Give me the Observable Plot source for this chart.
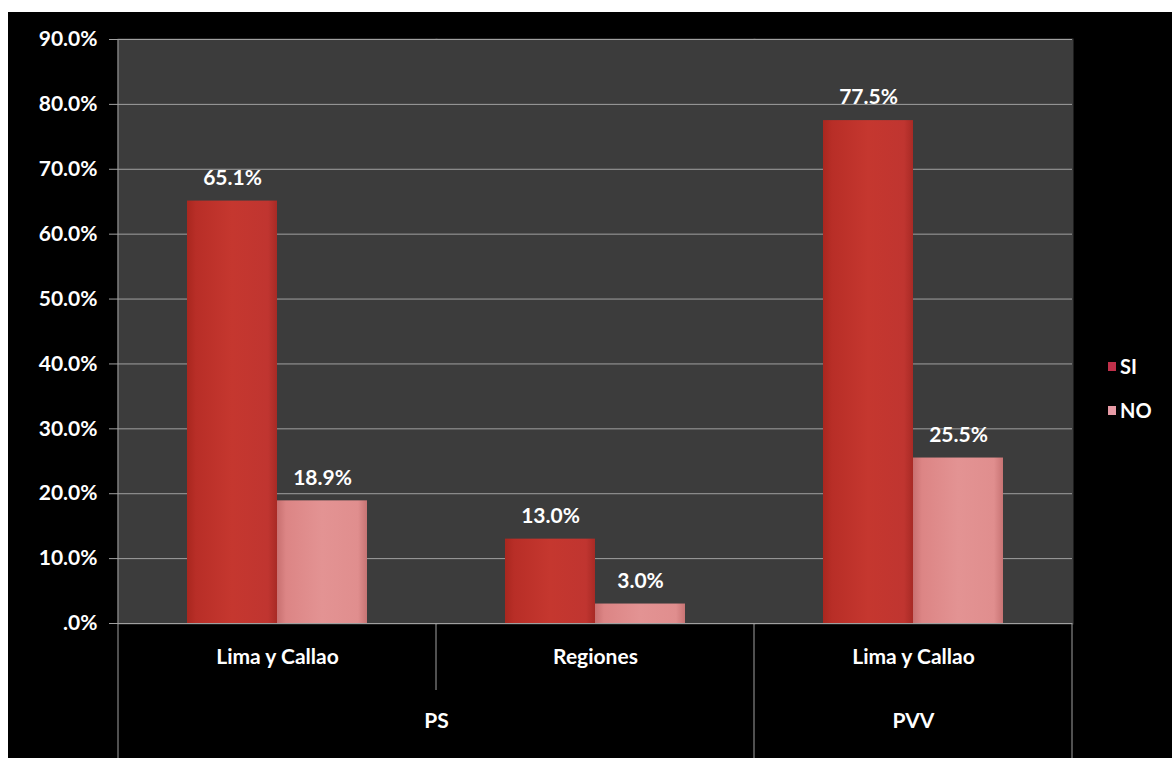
<!DOCTYPE html>
<html>
<head>
<meta charset="utf-8">
<script src="https://cdn.jsdelivr.net/npm/d3@7"></script>
<script src="https://cdn.jsdelivr.net/npm/@observablehq/plot@0.6"></script>
<style>
  html, body { margin: 0; padding: 0; background: #fff; }
  #wrap { position: absolute; left: 8px; top: 12px; width: 1164px; height: 746px; background: #000; }
  .leg { position: absolute; font-family: Lato, sans-serif; font-weight: bold; font-size: 20px; color: #fff; display: flex; align-items: center; }
  .sw { width: 8px; height: 9px; margin-right: 4px; }
</style>
</head>
<body>
<div id="wrap"></div>
<script>
const parents = ["PS", "PS", "PVV"];
const subcats = ["Lima y Callao", "Regiones", "Lima y Callao"];
const series = ["SI", "NO"];
const siValues = [65.1, 13.0, 77.5];
const noValues = [18.9, 3.0, 25.5];
const yTicks = [0, 10, 20, 30, 40, 50, 60, 70, 80, 90];

const keys = subcats.map((s, i) => parents[i] + " / " + s);
const data = [];
keys.forEach((k, i) => {
  data.push({key: k, series: "SI", value: siValues[i]});
  data.push({key: k, series: "NO", value: noValues[i]});
});
const subData = keys.map((k, i) => ({key: k, text: subcats[i]}));
const fmt = d => d === 0 ? ".0%" : d.toFixed(1) + "%";

const W = 1164, H = 746;
const FS = 21;
const chart = Plot.plot({
  width: W, height: H,
  marginLeft: 109, marginRight: 100, marginTop: 27, marginBottom: 135,
  style: {background: "#000", color: "#fff", fontFamily: "Lato, sans-serif", fontSize: FS + "px", fontWeight: "bold", overflow: "visible"},
  fx: {domain: keys, padding: 0, axis: null},
  x: {domain: series, paddingInner: 0, paddingOuter: 0.76, axis: null},
  y: {domain: [0, 90], axis: null},
  marks: [
    Plot.frame({fill: "#3c3c3c", stroke: "#3c3c3c", strokeWidth: 2}),
    Plot.gridY(yTicks, {stroke: "#a0a0a0", strokeOpacity: 1, strokeWidth: 1}),
    Plot.barY(data.filter(d => d.series === "SI"), {fx: "key", x: "series", y: "value", fill: "url(#gSI)"}),
    Plot.barY(data.filter(d => d.series === "NO"), {fx: "key", x: "series", y: "value", fill: "url(#gNO)"}),
    Plot.text(data, {fx: "key", x: "series", y: "value", text: d => fmt(d.value), dy: -23, fill: "#fff"}),
    Plot.axisY(yTicks, {tickFormat: fmt, tickSize: 9, tickPadding: 12, stroke: "#a0a0a0", fill: "#fff", label: null, fontSize: FS}),
    Plot.text(subData, {fx: "key", text: "text", frameAnchor: "bottom", dy: 40, fill: "#fff"}),
    Plot.text([{key: keys[0], text: parents[0]}], {fx: "key", text: "text", frameAnchor: "bottom-right", textAnchor: "middle", dy: 104, fill: "#fff"}),
    Plot.text([{key: keys[2], text: parents[2]}], {fx: "key", text: "text", frameAnchor: "bottom", dy: 104, fill: "#fff"})
  ]
});

const svg = d3.select(chart);
const defs = svg.append("defs");
function grad(id, stops) {
  const g = defs.append("linearGradient").attr("id", id).attr("x1", "0").attr("x2", "1").attr("y1", "0").attr("y2", "0");
  stops.forEach(([o, c]) => g.append("stop").attr("offset", o).attr("stop-color", c));
}
grad("gSI", [["0", "#a9271f"], ["0.1", "#b82e27"], ["0.5", "#c5372f"], ["0.9", "#c03530"], ["1", "#a82a25"]]);
grad("gNO", [["0", "#c87070"], ["0.1", "#dc8585"], ["0.5", "#e39393"], ["0.9", "#e08e8e"], ["1", "#c87474"]]);

// hierarchical category separators
const fx = chart.scale("fx");
const bw = fx.bandwidth !== undefined ? fx.bandwidth : (W - 209) / keys.length;
const x0 = k => fx.apply(k);
const yTop = 27, yBot = H - 135;
const lines = [];
lines.push([x0(keys[0]), yTop, H]);
keys.forEach((k, i) => {
  if (i === 0) return;
  const full = parents[i] !== parents[i - 1];
  lines.push([x0(k), yBot, full ? H : yBot + 67]);
});
lines.push([x0(keys[keys.length - 1]) + bw, yBot, H]);
svg.append("g").selectAll("line").data(lines).join("line")
  .attr("x1", d => d[0]).attr("x2", d => d[0]).attr("y1", d => d[1]).attr("y2", d => d[2])
  .attr("stroke", "#a0a0a0").attr("stroke-width", 1);

const wrap = document.getElementById("wrap");
wrap.appendChild(chart);

// legend
const legColors = {SI: "#c0304a", NO: "#e79aa5"};
series.forEach((s, i) => {
  const d = document.createElement("div");
  d.className = "leg";
  d.style.left = (1108 - 8) + "px";
  d.style.top = (354 - 12 + i * 44) + "px";
  d.innerHTML = `<span class="sw" style="background:${legColors[s]}"></span>${s}`;
  wrap.appendChild(d);
});
</script>
</body>
</html>
